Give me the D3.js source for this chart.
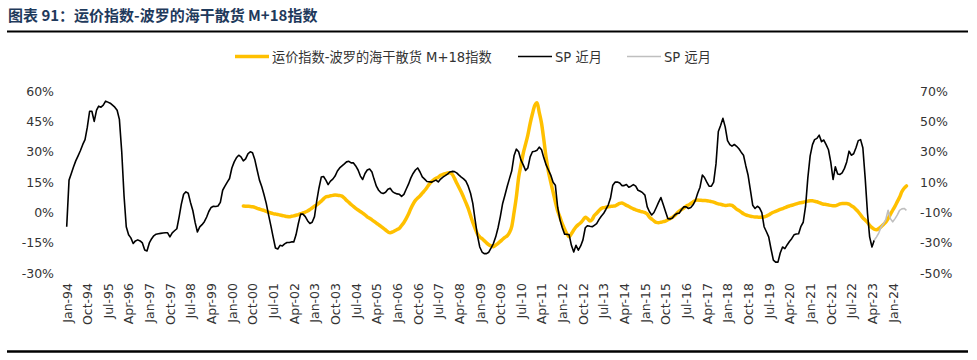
<!DOCTYPE html>
<html><head><meta charset="utf-8">
<script src="https://cdn.jsdelivr.net/npm/d3@7"></script>
<style>
html,body{margin:0;padding:0;background:#fff;}
svg{display:block;}
</style></head>
<body>
<svg id="chart" width="977" height="360"></svg>
<script>
// ---- DATA (monthly, % change) ----
const titleText = "图表 91：运价指数-波罗的海干散货 M+18指数";
const seriesNames = ["运价指数-波罗的海干散货 M+18指数", "SP 近月", "SP 远月"];
const leftTicks = [-30, -15, 0, 15, 30, 45, 60];
const rightTicks = [-50, -30, -10, 10, 30, 50, 70];

// SP near month (left axis), starting Jan-1994
const spNearStart = "1994-01";
const spNear = [
 -7,16,19,22.5,25.5,28,30.5,33.5,36,42,50,50,45,50.6,52.5,52,53,55,54.5,54,53,52,50.5,46,
 30,8,-7,-11,-12.5,-15.3,-14,-13.5,-14,-15,-18.5,-19,-15,-12.9,-11.5,-10.7,-10.5,-10.3,-10.1,-10,
 -10,-12,-10,-9,-8,-2,4,9,10.2,9.5,5,1,-5,-9.6,-7.1,-6,-4.5,-2.2,0.5,2.5,3.1,3,3.2,5,11,13,15,16.8,
 22,25,27,28.3,27.5,25.5,26.5,29,30,29.5,26,21,16,12.7,9,4.5,-1,-6.5,-12,-17.5,-18,-16.2,-16.5,-15.5,
 -14.8,-14.8,-14.5,-14.5,-11,-5.4,-0.8,-0.8,-2,-4,-5.4,-4.8,-2,6,12,17.5,17.8,16,13.8,15.5,16.5,18,
 20.5,22,23,24,25,25.3,24.5,24.5,23,21,18,16.3,19.3,21,21.5,20,16.5,13,11,9.8,9.4,10,11.5,12,
 10.3,9.6,9.2,9,8,9,11.5,14,17,19.3,21,22,20,17.6,16.5,15.3,15.2,15,15.5,16,15.1,16.5,17.5,18.2,
 19,20,20.3,20.2,19.6,18.5,17.5,16.6,15.5,13,9.5,4.5,-3.8,-11.2,-17,-19.5,-20.3,-20.3,-19.6,-17.5,
 -15.3,-12,-7.5,-2,4.5,8.5,13,17,20.5,28,31.3,30,26,23.5,20.8,22,27.5,30,30.3,30.8,32.3,31,27,23.5,
 21,18.5,15,13.5,2.5,-3.5,-7.5,-10.7,-10.7,-11,-16.2,-19.5,-16.2,-18.6,-16.5,-13.5,-7.5,-6.5,-6.8,-7,
 -6.3,-5.5,-3.5,-1.8,-0.5,1.5,3.7,7,13.5,15,15.1,14.6,13.3,13.3,13.8,12.5,13,13.8,13,11,10.5,9.8,
 8.6,2.8,0.5,-1.2,0,2.5,5,7.4,4,0.5,-3,-3.2,-2.7,-1.2,-0.5,-0.3,1.5,2.8,2.8,2,2.5,3.8,6,9.5,
 12.5,18.5,17.3,15,13,13,15,24,40,43,46.5,42.3,35.5,33.5,32.8,33.6,32.7,31.5,29.8,28.3,23,18.4,11,3.6,
 2,3.1,2.3,0,-7,-9.5,-12,-18,-23.5,-24.5,-24.5,-20,-17,-17.8,-16,-14.3,-12.9,-11,-10.6,-10.5,-6.8,-4.8,
 3,17,28,33.5,36,36.6,38.2,35,35.8,33.5,31,25,16.3,22.6,19,18.8,19.6,21.8,25,30.3,28.3,29,32,35.5,
 36,32,17,-0.5,-12,-17,-13.7
];

// SP far month (left axis), starting May-2023
const spFarStart = "2023-05";
const spFar = [-13.7,-12,-10,-7.1,-5.5,-3.5,1.1,-3,-4.6,-3,-1.3,1.1,1.8,2,1.1];

// Freight index BDI M+18 (right axis), starting Jun-2000
const freightStart = "2000-06";
const freight = [
 -5.7,-5.8,-5.9,-6,-6.2,-6.6,-7.2,-7.7,-8.2,-8.6,-9.3,-9.8,-10.3,-10.7,-11,-11.3,-11.6,-12,-12.3,-12.6,
 -12.7,-12.5,-12.2,-11.8,-11.4,-10.8,-10.3,-9.7,-9,-8,-7,-5.8,-5,-3.8,-2.5,-1,0.3,0.6,1,1.3,
 1.5,1.4,1.2,0.8,-0.5,-2,-3.3,-4.7,-6,-7.2,-8.3,-9.3,-10.4,-11.5,-12.8,-13.8,-14.8,-15.8,-17,-18,
 -19.1,-20.3,-21.5,-22.7,-23.3,-22.8,-22,-21.2,-20.4,-18.5,-16.5,-14,-11,-7.5,-4.5,-2,-0.5,1,2.8,4.5,
 6.5,8.5,10.2,11.5,12.5,13.2,14.5,15.1,15.5,16,16.2,15.2,12.5,9.5,6.5,3.5,0,-3.5,-7.3,-12,
 -16.5,-20.5,-24,-26,-27.2,-28.5,-30,-31.2,-32,-32.5,-31.5,-30.3,-29,-27.6,-26.3,-25.3,-23,-19.3,-10,0,
 13,21,29,35,41,48.7,55,60.5,62.3,56,48.7,38,26,17,10,3.5,-3,-9,-13,-17.5,
 -21,-24,-25.9,-24,-21.5,-19.5,-18,-16.8,-15,-13.1,-14,-15.5,-14.5,-12,-10.5,-8.8,-7.3,-6.8,-6.5,-6.2,
 -6,-5.8,-5.7,-4.8,-4,-3.8,-4.4,-5.3,-6,-6.8,-7.6,-8.2,-8.7,-9.2,-9.6,-10,-11,-13,-14.3,-15.5,
 -16.5,-16.7,-16.4,-16,-15.6,-14.8,-14,-13.2,-12,-10.4,-9,-8,-7,-5.8,-5,-4,-3,-2,-1.8,-1.9,
 -2,-2.1,-2.2,-2.5,-2.8,-3.2,-3.8,-4.3,-4.6,-5,-5.4,-5.2,-5,-5.3,-6.5,-7.8,-8.7,-9.7,-10.8,-11.5,
 -12,-12.4,-12.7,-12.9,-13,-13.1,-13.1,-12.8,-12.4,-11.6,-10.6,-9.8,-9.2,-8.6,-8,-7.4,-6.8,-6.2,-5.7,-5.2,
 -4.8,-4.3,-3.8,-3.5,-3.2,-2.8,-2.5,-2.2,-2.3,-2.6,-2.9,-3.5,-4.1,-4.5,-4.7,-5,-5.3,-5.5,-5.6,-5,
 -4.3,-4,-4,-4,-4.5,-5.5,-6.5,-8,-9.5,-11.5,-13.5,-14.9,-16.5,-18.5,-20,-21,-21.4,-20.5,-19.3,-17.8,
 -16.3,-14,-11.2,-8.5,-5.8,-3,0,3.7,6,7.5
];

// x tick labels: every 9 months, Jan-1994 .. Jan-2024
const xTickStart = "1994-01", xTickEnd = "2024-01", xTickStep = 9;

// ---- DRAW ----
const svg = d3.select("#chart");
const font = "'DejaVu Sans','Noto Sans CJK SC',sans-serif";
const txt = "#333";

function parseYM(s){ const [y,m]=s.split("-").map(Number); return new Date(y, m-1, 1); }
function toPoints(start, vals){ const d0=parseYM(start); return vals.map((v,i)=>({date:new Date(d0.getFullYear(), d0.getMonth()+i, 1), v})); }

const x = d3.scaleTime().domain([parseYM(xTickStart), parseYM(xTickEnd)]).range([66.7, 892.7]);
const yL = d3.scaleLinear().domain([-30, 60]).range([273.3, 91]);
const yR = d3.scaleLinear().domain([-50, 70]).range([273.3, 91]);

// title + rules
svg.append("text").attr("x", 8).attr("y", 20.5).text(titleText)
  .attr("font-family", "'Noto Sans CJK SC',sans-serif").attr("font-weight", "bold")
  .attr("font-size", 15).attr("fill", "#1f3a5c");
svg.append("line").attr("x1", 7).attr("x2", 968).attr("y1", 31.5).attr("y2", 31.5).attr("stroke", "#000").attr("stroke-width", 2);
svg.append("line").attr("x1", 7).attr("x2", 968).attr("y1", 351.5).attr("y2", 351.5).attr("stroke", "#000").attr("stroke-width", 2.5);

// legend
const legend = [
  {name: seriesNames[0], color: "#FFC000", w: 3.5, x: 235},
  {name: seriesNames[1], color: "#000000", w: 1.5, x: 518},
  {name: seriesNames[2], color: "#BFBFBF", w: 1.5, x: 627}
];
const lg = svg.append("g");
legend.forEach(l => {
  lg.append("line").attr("x1", l.x).attr("x2", l.x + 34).attr("y1", 56.5).attr("y2", 56.5)
    .attr("stroke", l.color).attr("stroke-width", l.w);
  lg.append("text").attr("x", l.x + 37).attr("y", 57).attr("dy", "0.35em").text(l.name)
    .attr("font-family", font).attr("font-size", 13.2).attr("fill", txt);
});

// axes
const xTicks = d3.range(0, d3.timeMonth.count(parseYM(xTickStart), parseYM(xTickEnd)) + 1, xTickStep)
  .map(i => { const d = parseYM(xTickStart); return new Date(d.getFullYear(), d.getMonth()+i, 1); });
const gx = svg.append("g").attr("transform", "translate(0,280)")
  .call(d3.axisBottom(x).tickValues(xTicks).tickSize(0).tickFormat(d3.timeFormat("%b-%y")));
gx.select(".domain").remove();
gx.selectAll("text").attr("transform", "rotate(-90)").attr("x", -3).attr("y", 0).attr("dy", "0.35em")
  .attr("text-anchor", "end").attr("font-family", font).attr("font-size", 12.5).attr("fill", txt);

const gl = svg.append("g").attr("transform", "translate(54,0)")
  .call(d3.axisLeft(yL).tickValues(leftTicks).tickSize(0).tickPadding(0).tickFormat(d => d + "%"));
gl.select(".domain").remove();
gl.selectAll("text").attr("font-family", font).attr("font-size", 12.5).attr("fill", txt);

const gr = svg.append("g").attr("transform", "translate(920,0)")
  .call(d3.axisRight(yR).tickValues(rightTicks).tickSize(0).tickPadding(0).tickFormat(d => d + "%"));
gr.select(".domain").remove();
gr.selectAll("text").attr("font-family", font).attr("font-size", 12.5).attr("fill", txt);

// lines
const lineL = d3.line().x(d => x(d.date)).y(d => yL(d.v));
const lineR = d3.line().x(d => x(d.date)).y(d => yR(d.v)).curve(d3.curveMonotoneX);

svg.append("path").datum(toPoints(freightStart, freight)).attr("d", lineR)
  .attr("fill", "none").attr("stroke", "#FFC000").attr("stroke-width", 3.5)
  .attr("stroke-linejoin", "round").attr("stroke-linecap", "round");
svg.append("path").datum(toPoints(spNearStart, spNear)).attr("d", lineL)
  .attr("fill", "none").attr("stroke", "#000").attr("stroke-width", 1.6).attr("stroke-linejoin", "round");
svg.append("path").datum(toPoints(spFarStart, spFar)).attr("d", lineL)
  .attr("fill", "none").attr("stroke", "#BFBFBF").attr("stroke-width", 1.6).attr("stroke-linejoin", "round");
</script>
</body></html>
